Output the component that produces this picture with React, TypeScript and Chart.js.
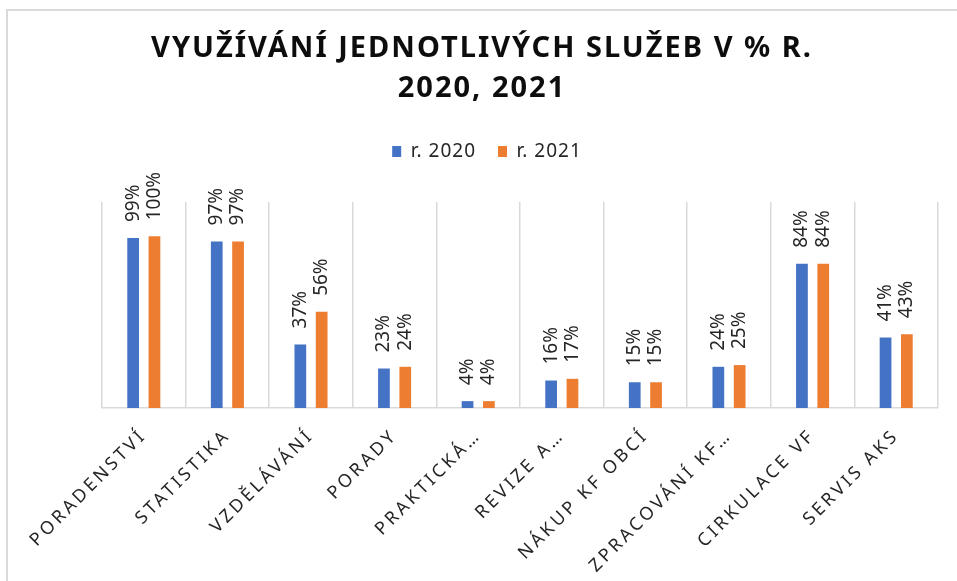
import { useEffect, useRef } from "react";
import { Chart, registerables } from "chart.js";

Chart.register(...registerables);

const categories = [
  "PORADENSTVÍ",
  "STATISTIKA",
  "VZDĚLÁVÁNÍ",
  "PORADY",
  "PRAKTICKÁ…",
  "REVIZE A…",
  "NÁKUP KF OBCÍ",
  "ZPRACOVÁNÍ KF…",
  "CIRKULACE VF",
  "SERVIS AKS",
];
const series2020 = [99, 97, 37, 23, 4, 16, 15, 24, 84, 41];
const series2021 = [100, 97, 56, 24, 4, 17, 15, 25, 84, 43];
const seriesNames = ["r. 2020", "r. 2021"];
const titleLines = ["VYUŽÍVÁNÍ JEDNOTLIVÝCH SLUŽEB V % R.", "2020, 2021"];

const FAMILY = "'Noto Sans', 'Open Sans', sans-serif";
const TICK_SPACING = "3.2px";
const TITLE_SPACING = "2px";
const LEGEND_SPACING = "1px";

const customPlugin = {
  id: "custom",
  afterInit(chart: any) {
    const t = chart.titleBlock;
    if (t) {
      const d = t.draw.bind(t);
      t.draw = (...a: any[]) => {
        const c = chart.ctx;
        c.save();
        c.letterSpacing = TITLE_SPACING;
        d(...a);
        c.restore();
      };
    }
    const lg = chart.legend;
    if (lg) {
      const f = lg.fit.bind(lg);
      lg.fit = (...a: any[]) => {
        const c = chart.ctx;
        const prev = c.letterSpacing;
        c.letterSpacing = LEGEND_SPACING;
        f(...a);
        c.letterSpacing = prev;
        lg.height += 31;
      };
      const d = lg.draw.bind(lg);
      lg.draw = (...a: any[]) => {
        const c = chart.ctx;
        c.save();
        c.letterSpacing = LEGEND_SPACING;
        c.translate(5, 0);
        d(...a);
        c.restore();
      };
    }
  },
  beforeLayout(chart: any) {
    chart.ctx.letterSpacing = TICK_SPACING;
  },
  beforeDraw(chart: any) {
    const c = chart.ctx;
    c.letterSpacing = TICK_SPACING;
    c.save();
    c.strokeStyle = "#d9d9d9";
    c.lineWidth = 2;
    c.beginPath();
    c.moveTo(7, chart.height);
    c.lineTo(7, 10);
    c.lineTo(chart.width, 10);
    c.stroke();
    c.restore();
  },
  afterDatasetsDraw(chart: any) {
    const c = chart.ctx;
    c.save();
    c.letterSpacing = "0px";
    c.font = `19px ${FAMILY}`;
    c.fillStyle = "#262626";
    c.textAlign = "left";
    c.textBaseline = "middle";
    chart.data.datasets.forEach((ds: any, i: number) => {
      const meta = chart.getDatasetMeta(i);
      meta.data.forEach((el: any, j: number) => {
        const v = ds.data[j];
        c.save();
        c.translate(el.x, el.y - 16);
        c.rotate(-Math.PI / 2);
        c.fillText(`${v}%`, 0, 0);
        c.restore();
      });
    });
    c.restore();
  },
};

export default function App() {
  const ref = useRef<HTMLCanvasElement | null>(null);

  useEffect(() => {
    if (!ref.current) return;
    const chart = new Chart(ref.current, {
      type: "bar",
      data: {
        labels: categories,
        datasets: [
          {
            label: seriesNames[0],
            data: series2020,
            backgroundColor: "#4472C4",
            borderWidth: 0,
            categoryPercentage: 0.51,
            barPercentage: 0.55,
          },
          {
            label: seriesNames[1],
            data: series2021,
            backgroundColor: "#ED7D31",
            borderWidth: 0,
            categoryPercentage: 0.51,
            barPercentage: 0.55,
          },
        ],
      },
      options: {
        responsive: false,
        animation: false,
        events: [],
        layout: { padding: { top: 10, left: 7, right: 0, bottom: 0 } },
        plugins: {
          title: {
            display: true,
            text: titleLines,
            color: "#0d0d0d",
            font: { family: FAMILY, size: 29, weight: "bold", lineHeight: 40 / 29 },
            padding: { top: 19, bottom: 11 },
          },
          legend: {
            display: true,
            position: "top",
            labels: {
              boxWidth: 9,
              boxHeight: 11,
              padding: 22,
              color: "#262626",
              font: { family: FAMILY, size: 19 },
            },
          },
          tooltip: { enabled: false },
        },
        scales: {
          x: {
            grid: {
              display: true,
              offset: true,
              color: "#d9d9d9",
              lineWidth: 1.5,
              drawTicks: false,
            },
            border: { display: true, color: "#d9d9d9", width: 1.5 },
            ticks: {
              autoSkip: false,
              maxRotation: 45,
              minRotation: 45,
              padding: 17,
              color: "#262626",
              font: { family: FAMILY, size: 18 },
            },
            afterFit(scale: any) {
              scale.height = 173;
              scale.paddingLeft = 102;
              scale.paddingRight = 19;
            },
          },
          y: { display: false, min: 0, max: 120 },
        },
      },
      plugins: [customPlugin as any],
    });
    return () => chart.destroy();
  }, []);

  return (
    <div
      style={{
        position: "fixed",
        left: 0,
        top: 0,
        width: 957,
        height: 581,
        background: "#fff",
      }}
    >
      <canvas ref={ref} width={957} height={581} style={{ display: "block" }} />
    </div>
  );
}
